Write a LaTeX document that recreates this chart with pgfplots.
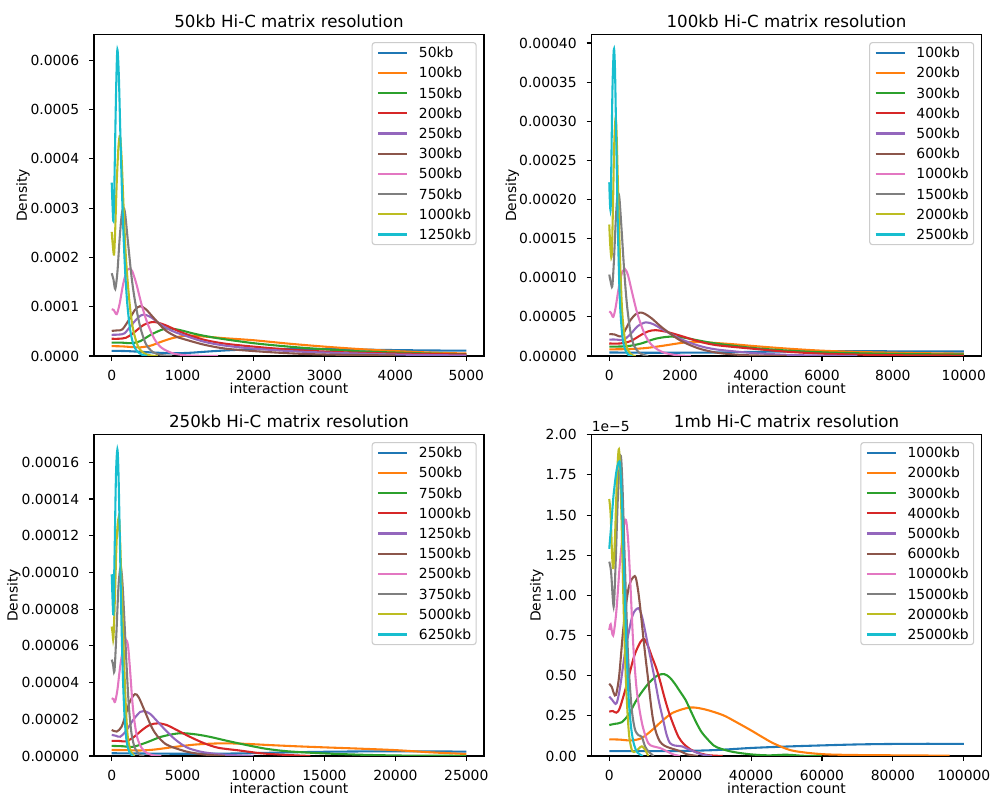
\documentclass[border=0pt]{standalone}
\usepackage{fontspec}
\setmainfont{DejaVu Sans}
\usepackage{pgfplots}
\pgfplotsset{compat=1.18}

\definecolor{c0}{HTML}{1F77B4}
\definecolor{c1}{HTML}{FF7F0E}
\definecolor{c2}{HTML}{2CA02C}
\definecolor{c3}{HTML}{D62728}
\definecolor{c4}{HTML}{9467BD}
\definecolor{c5}{HTML}{8C564B}
\definecolor{c6}{HTML}{E377C2}
\definecolor{c7}{HTML}{7F7F7F}
\definecolor{c8}{HTML}{BCBD22}
\definecolor{c9}{HTML}{17BECF}

% 1 px of the reference = 0.72pt; densities are written in units of 1e-5
\pgfplotsset{
  hic/.style={
    scale only axis, width=280.8pt, height=231.3pt,
    font=\fontsize{10}{12}\selectfont,
    axis line style={line width=0.8pt},
    tick align=outside, tick pos=left,
    major tick length=3.5pt,
    every tick/.style={black, line width=0.8pt},
    ymin=0, scaled ticks=false,
    /pgf/number format/fixed,
    /pgf/number format/precision=0,
    /pgf/number format/1000 sep={},
    /pgf/number format/assume math mode=true,
    xticklabel style={anchor=base, yshift=-14.4pt},
    yticklabel style={anchor=east, inner sep=0pt, xshift=-7pt},
    every axis x label/.style={at={(axis description cs:0.5,0)}, anchor=base, yshift=-27pt},
    xlabel={interaction count},
    every axis title/.style={at={(axis description cs:0.5,1)}, anchor=base, yshift=5.5pt, font=\fontsize{12}{14}\selectfont},
    legend style={at={(rel axis cs:0.9813,0.9773)}, anchor=north east,
      draw=black!20, line width=0.8pt, fill=white, fill opacity=0.8, text opacity=1,
      rounded corners=2pt, inner sep=3.6pt, row sep=7.25pt, column sep=7.7pt,
      font=\fontsize{10}{12}\selectfont,
      nodes={inner sep=0pt, text height=7.3pt, text depth=0pt}},
    legend cell align=left,
    legend image code/.code={\draw[#1, line width=1.5pt, sharp corners] (0pt,0pt) -- (20.9pt,0pt);},
    every axis plot/.append style={line width=1.5pt, smooth},
  },
  ylab/.style={every axis y label/.style={at={(axis description cs:#1,0.5)}, rotate=90, anchor=base}, ylabel={Density}},
}

\begin{document}
\begin{tikzpicture}
\useasboundingbox (0,0) rectangle (712.8pt,573.12pt);

% ---------------- 50kb ----------------
\begin{axis}[hic, ylab=-0.1718, at={(67.68pt,316.8pt)}, anchor=south west,
  title={50kb Hi-C matrix resolution},
  xmin=-250, xmax=5250, ymax=65.2,
  xtick={0,1000,2000,3000,4000,5000},
  ytick={0,10,20,30,40,50,60},
  yticklabels={0.0000,0.0001,0.0002,0.0003,0.0004,0.0005,0.0006}]
\addplot[c0] coordinates {(0,1.05) (200,1.0) (400,0.85) (600,0.7) (850,0.55) (1100,0.65) (1400,0.95) (1700,1.2) (2000,1.35) (2500,1.45) (3000,1.4) (3500,1.3) (4000,1.2) (4500,1.12) (5000,1.08)};
\addlegendentry{50kb}
\addplot[c1] coordinates {(0,2.0) (150,1.95) (300,1.8) (400,1.75) (550,2.1) (700,2.9) (850,3.6) (1000,4.05) (1080,4.15) (1300,3.95) (1600,3.6) (2000,3.2) (2500,2.5) (3000,1.9) (3500,1.4) (4000,1.0) (4500,0.7) (5000,0.5)};
\addlegendentry{100kb}
\addplot[c2] coordinates {(0,2.7) (150,2.7) (280,2.6) (400,3.0) (550,4.3) (700,5.3) (800,5.6) (950,5.3) (1200,4.4) (1500,3.6) (2000,2.6) (2500,1.9) (3000,1.35) (3500,0.95) (4000,0.7) (4500,0.5) (5000,0.35)};
\addlegendentry{150kb}
\addplot[c3] coordinates {(0,3.5) (100,3.5) (200,3.7) (300,4.6) (450,6.3) (590,6.9) (750,6.3) (1000,4.7) (1300,3.3) (1600,2.5) (2000,1.9) (2500,1.3) (3000,0.9) (3500,0.65) (4000,0.5) (5000,0.3)};
\addlegendentry{200kb}
\addplot[c4] coordinates {(0,4.3) (100,4.35) (180,4.6) (280,6.3) (380,7.9) (450,8.4) (550,7.9) (700,6.3) (850,5.1) (1000,4.3) (1300,2.9) (1600,2.1) (2000,1.5) (2500,1.0) (3000,0.7) (4000,0.3) (5000,0.1)};
\addlegendentry{250kb}
\addplot[c5] coordinates {(0,5.1) (80,5.2) (150,5.4) (250,7.5) (330,9.4) (400,10.1) (480,9.5) (600,7.6) (750,5.3) (900,4.0) (1000,3.5) (1300,2.3) (1600,1.5) (2000,1.0) (2500,0.55) (3000,0.3) (4000,0.1)};
\addlegendentry{300kb}
\addplot[c6] coordinates {(0,9.5) (30,9.3) (70,8.5) (110,10.5) (160,14.5) (210,17.2) (250,17.7) (290,17.2) (350,14.5) (420,10.5) (500,6.8) (600,3.5) (700,1.7) (850,0.6) (1000,0.2) (1200,0.05) (1500,0)};
\addlegendentry{500kb}
\addplot[c7] coordinates {(0,16.8) (25,15.5) (50,13.6) (80,17) (110,23.5) (140,28.6) (165,30.1) (190,28.8) (230,23) (280,16) (330,11) (400,6) (480,2.5) (580,0.8) (700,0.2) (850,0)};
\addlegendentry{750kb}
\addplot[c8] coordinates {(0,25.2) (15,22.5) (33,20.6) (50,26) (70,35) (95,42.5) (117,44.6) (140,40) (165,31) (200,20) (250,11) (300,5.5) (370,2) (450,0.6) (550,0.1) (650,0)};
\addlegendentry{1000kb}
\addplot[c9] coordinates {(0,35.2) (10,31) (23,27.4) (35,33) (50,45) (65,56) (80,62.2) (100,57) (120,46) (141,35) (165,25) (190,17) (220,10.5) (258,5.5) (300,2.6) (350,1.1) (420,0.3) (500,0)};
\addlegendentry{1250kb}
\end{axis}

% ---------------- 100kb ----------------
\begin{axis}[hic, ylab=-0.1936, at={(425.9pt,316.8pt)}, anchor=south west,
  title={100kb Hi-C matrix resolution},
  xmin=-500, xmax=10500, ymax=41.05,
  xtick={0,2000,4000,6000,8000,10000},
  ytick={0,5,10,15,20,25,30,35,40},
  yticklabels={0.00000,0.00005,0.00010,0.00015,0.00020,0.00025,0.00030,0.00035,0.00040}]
\addplot[c0] coordinates {(0,0.45) (1000,0.42) (2000,0.42) (3000,0.45) (4000,0.52) (5000,0.58) (6000,0.6) (8000,0.6) (10000,0.57)};
\addlegendentry{100kb}
\addplot[c1] coordinates {(0,0.85) (500,0.88) (1000,1.0) (1500,1.3) (2000,1.65) (2300,1.8) (2800,1.72) (3500,1.5) (4000,1.3) (5000,0.95) (6000,0.68) (7000,0.52) (8000,0.42) (9000,0.35) (10000,0.3)};
\addlegendentry{200kb}
\addplot[c2] coordinates {(0,1.2) (500,1.25) (900,1.6) (1300,2.2) (1700,2.47) (2100,2.35) (2500,2.0) (3000,1.6) (4000,1.05) (5000,0.7) (6000,0.47) (7000,0.35) (8000,0.27) (9000,0.22) (10000,0.2)};
\addlegendentry{300kb}
\addplot[c3] coordinates {(0,1.6) (300,1.6) (600,1.9) (900,2.7) (1100,3.15) (1300,3.3) (1600,3.1) (2000,2.6) (2500,1.9) (3000,1.4) (4000,0.95) (5000,0.55) (6000,0.3) (7000,0.18) (8000,0.1) (10000,0.05)};
\addlegendentry{400kb}
\addplot[c4] coordinates {(0,2.1) (200,2.1) (400,2.05) (600,2.8) (800,3.8) (1030,4.3) (1250,4.05) (1500,3.4) (2000,2.2) (2500,1.35) (3000,0.85) (4000,0.4) (5000,0.15) (6000,0.05) (7000,0)};
\addlegendentry{500kb}
\addplot[c5] coordinates {(0,2.8) (150,2.75) (330,2.5) (450,3.3) (600,4.6) (750,5.35) (880,5.55) (1000,5.4) (1200,4.8) (1500,3.6) (2000,2.0) (2500,1.0) (3000,0.45) (3500,0.2) (4000,0.08) (5000,0)};
\addlegendentry{600kb}
\addplot[c6] coordinates {(0,5.7) (50,5.5) (113,5.0) (180,6.2) (260,8.5) (350,10.5) (443,11.1) (530,10.3) (650,8) (800,5.3) (1000,2.8) (1200,1.4) (1500,0.5) (1900,0.1) (2300,0)};
\addlegendentry{1000kb}
\addplot[c7] coordinates {(0,10.4) (40,9.5) (85,8.9) (130,12) (180,17) (220,20) (254,20.8) (290,20) (350,16) (420,11) (500,6.5) (600,3) (700,1.3) (850,0.4) (1000,0.1) (1100,0)};
\addlegendentry{1500kb}
\addplot[c8] coordinates {(0,16.8) (30,14) (67,12.7) (100,18) (140,27) (179,30.4) (210,28) (250,21) (300,13) (360,6) (430,2.5) (520,0.8) (650,0.1) (750,0)};
\addlegendentry{2000kb}
\addplot[c9] coordinates {(0,22.2) (20,19.5) (40,18.9) (60,25) (90,34) (120,38.5) (140,39.1) (165,36) (200,27) (250,15) (300,7) (370,2.5) (450,0.8) (550,0.1) (650,0)};
\addlegendentry{2500kb}
\end{axis}

% ---------------- 250kb ----------------
\begin{axis}[hic, ylab=-0.196, at={(67.68pt,28.8pt)}, anchor=south west,
  title={250kb Hi-C matrix resolution},
  xmin=-1250, xmax=26250, ymax=17.5,
  xtick={0,5000,10000,15000,20000,25000},
  ytick={0,2,4,6,8,10,12,14,16},
  yticklabels={0.00000,0.00002,0.00004,0.00006,0.00008,0.00010,0.00012,0.00014,0.00016}]
\addplot[c0] coordinates {(0,0.15) (3000,0.13) (6000,0.12) (9000,0.14) (12000,0.19) (15000,0.23) (18000,0.25) (21000,0.25) (25000,0.24)};
\addlegendentry{250kb}
\addplot[c1] coordinates {(0,0.33) (1000,0.32) (2000,0.3) (3000,0.35) (4500,0.5) (6000,0.63) (7800,0.69) (9500,0.66) (11000,0.6) (13000,0.53) (15000,0.47) (17500,0.4) (20000,0.32) (22500,0.2) (25000,0.11)};
\addlegendentry{500kb}
\addplot[c2] coordinates {(0,0.55) (800,0.53) (1500,0.5) (2500,0.75) (3500,1.05) (4800,1.24) (6000,1.17) (7000,1.03) (8000,0.85) (9000,0.68) (10000,0.52) (11000,0.38) (12500,0.25) (15000,0.14) (18000,0.06) (21000,0.02) (25000,0.01)};
\addlegendentry{750kb}
\addplot[c3] coordinates {(0,0.82) (500,0.82) (1000,0.8) (1500,1.0) (2200,1.45) (2700,1.7) (3280,1.78) (3900,1.68) (4500,1.45) (5500,1.05) (6500,0.7) (7500,0.45) (9000,0.3) (10500,0.15) (12000,0.07) (14000,0)};
\addlegendentry{1000kb}
\addplot[c4] coordinates {(0,1.15) (300,1.1) (600,1.05) (1000,1.35) (1500,1.95) (2000,2.4) (2275,2.45) (2700,2.3) (3200,1.9) (3800,1.4) (4400,0.95) (5000,0.6) (5500,0.4) (6500,0.2) (8000,0.07) (10000,0)};
\addlegendentry{1250kb}
\addplot[c5] coordinates {(0,1.42) (350,1.33) (700,1.6) (1000,2.3) (1300,3.0) (1641,3.37) (1900,3.2) (2300,2.5) (2800,1.6) (3200,1.1) (3800,0.65) (4400,0.45) (5000,0.3) (5500,0.2) (6500,0.08) (8000,0)};
\addlegendentry{1500kb}
\addplot[c6] coordinates {(0,3.15) (120,3.1) (235,2.95) (400,3.6) (600,4.9) (850,6.1) (1007,6.33) (1150,6.0) (1300,4.6) (1450,3.0) (1600,1.9) (1800,1.0) (2100,0.45) (2500,0.15) (3000,0.03) (3500,0)};
\addlegendentry{2500kb}
\addplot[c7] coordinates {(0,5.25) (90,5.0) (190,4.6) (320,6.5) (480,9.3) (632,10.3) (760,9.4) (900,7.3) (1050,4.9) (1200,2.8) (1400,1.2) (1650,0.4) (2000,0.05) (2300,0)};
\addlegendentry{3750kb}
\addplot[c8] coordinates {(0,7.05) (60,6.7) (120,6.4) (220,8.5) (350,11.8) (490,13.0) (580,12) (680,9.6) (800,6.8) (950,3.5) (1100,1.3) (1300,0.35) (1600,0)};
\addlegendentry{5000kb}
\addplot[c9] coordinates {(0,9.9) (60,8.5) (120,7.8) (200,11) (300,15.3) (400,16.7) (480,15.3) (580,11.5) (680,7.5) (780,4.5) (900,2.2) (1050,0.8) (1250,0.2) (1500,0)};
\addlegendentry{6250kb}
\end{axis}

% ---------------- 1mb (units of 1e-5) ----------------
\begin{axis}[hic, ylab=-0.1308, name=br, at={(425.9pt,28.8pt)}, anchor=south west,
  title={1mb Hi-C matrix resolution},
  xmin=-5000, xmax=105000, ymax=2.0,
  xtick={0,20000,40000,60000,80000,100000},
  ytick={0,0.25,0.5,0.75,1,1.25,1.5,1.75,2},
  yticklabels={0.00,0.25,0.50,0.75,1.00,1.25,1.50,1.75,2.00}]
\addplot[c0] coordinates {(0,0.03) (10000,0.03) (20000,0.031) (30000,0.037) (40000,0.05) (50000,0.059) (60000,0.066) (70000,0.072) (80000,0.075) (90000,0.076) (100000,0.075)};
\addlegendentry{1000kb}
\addplot[c1] coordinates {(0,0.104) (3000,0.102) (6000,0.097) (9000,0.11) (12000,0.16) (15000,0.22) (18000,0.27) (22800,0.302) (27000,0.29) (32000,0.255) (35500,0.215) (39800,0.162) (43000,0.12) (46300,0.079) (51000,0.037) (55800,0.02) (61400,0.01) (70000,0.006) (82000,0.004) (96000,0.002)};
\addlegendentry{2000kb}
\addplot[c2] coordinates {(0,0.193) (1500,0.2) (3500,0.21) (5500,0.26) (8000,0.36) (11000,0.45) (13500,0.5) (15450,0.51) (17000,0.49) (18500,0.45) (20000,0.4) (21500,0.35) (23000,0.28) (24500,0.21) (26000,0.15) (27500,0.11) (29500,0.065) (31500,0.045) (35000,0.025) (40000,0.01) (45000,0.004) (50000,0.008) (55000,0.001) (60000,0)};
\addlegendentry{3000kb}
\addplot[c3] coordinates {(0,0.276) (1000,0.28) (2000,0.27) (3000,0.3) (5000,0.45) (7000,0.62) (8800,0.71) (9900,0.727) (11000,0.68) (12000,0.62) (13200,0.55) (14300,0.47) (15500,0.37) (16700,0.28) (18000,0.2) (19500,0.12) (21000,0.075) (23000,0.04) (25000,0.02) (28000,0.005) (32000,0)};
\addlegendentry{4000kb}
\addplot[c4] coordinates {(0,0.37) (800,0.35) (1500,0.33) (2100,0.33) (3000,0.42) (4500,0.65) (6500,0.87) (8200,0.92) (9200,0.87) (10100,0.78) (11000,0.68) (12000,0.57) (12900,0.47) (14000,0.34) (15250,0.22) (16200,0.13) (17150,0.08) (18500,0.065) (20500,0.06) (22000,0.045) (23700,0.03) (26000,0.01) (29000,0)};
\addlegendentry{5000kb}
\addplot[c5] coordinates {(0,0.45) (700,0.43) (1300,0.39) (1900,0.38) (2800,0.5) (4000,0.8) (5500,1.05) (7200,1.12) (8000,1.05) (8700,0.93) (9600,0.74) (10300,0.6) (11000,0.47) (11700,0.33) (12400,0.22) (13300,0.14) (14300,0.09) (15500,0.065) (17100,0.05) (20000,0.03) (22000,0.01) (25000,0)};
\addlegendentry{6000kb}
\addplot[c6] coordinates {(0,0.785) (400,0.82) (1100,0.75) (2000,0.9) (3000,1.2) (4000,1.42) (4700,1.47) (5300,1.35) (5900,1.1) (6800,0.68) (7700,0.42) (8670,0.27) (9600,0.17) (11000,0.08) (12400,0.06) (14300,0.05) (16200,0.03) (18000,0.01) (20000,0)};
\addlegendentry{10000kb}
\addplot[c7] coordinates {(0,1.21) (500,1.15) (1000,0.98) (1320,0.94) (1800,1.2) (2500,1.65) (3200,1.87) (3700,1.7) (4400,1.2) (5000,0.8) (5400,0.58) (6300,0.3) (7200,0.17) (8200,0.13) (9150,0.12) (10100,0.06) (11000,0.03) (12500,0)};
\addlegendentry{15000kb}
\addplot[c8] coordinates {(0,1.60) (400,1.5) (800,1.25) (1150,1.17) (1600,1.35) (2200,1.75) (2730,1.91) (3200,1.7) (3750,1.2) (4200,0.8) (4700,0.47) (5200,0.25) (5700,0.11) (6500,0.03) (7500,0.03) (8500,0.05) (9200,0.06) (10100,0.04) (11000,0)};
\addlegendentry{20000kb}
\addplot[c9] coordinates {(0,1.29) (600,1.45) (1200,1.62) (2000,1.77) (2700,1.83) (3100,1.8) (3700,1.5) (4300,1.05) (4900,0.65) (5500,0.35) (6200,0.17) (7000,0.07) (8000,0.02) (9500,0)};
\addlegendentry{25000kb}
\end{axis}
\node[anchor=base west, inner sep=0pt, font=\fontsize{10}{12}\selectfont] at ([yshift=2.6pt]br.north west) {1e−5};
\end{tikzpicture}
\end{document}
